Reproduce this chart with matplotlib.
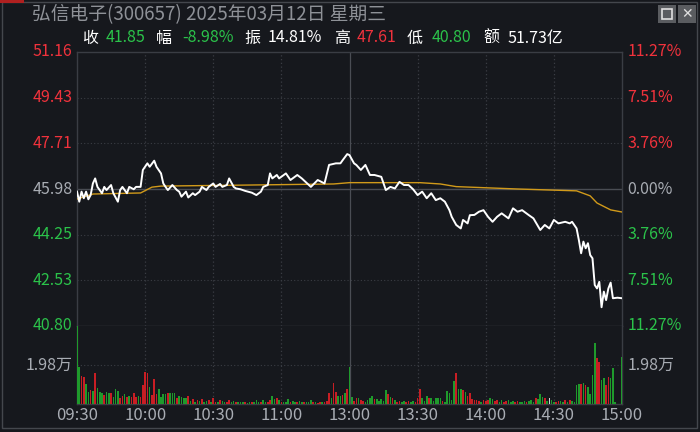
import matplotlib
matplotlib.use('Agg')
import matplotlib.pyplot as plt
from matplotlib.patches import Rectangle

plt.rcParams['font.family'] = ['Noto Sans CJK SC', 'DejaVu Sans']

# ---- data ----
prev_close = 45.98
price_ticks = [40.80, 42.53, 44.25, 45.98, 47.71, 49.43, 51.16]
pct_labels = ['11.27%', '7.51%', '3.76%', '0.00%', '3.76%', '7.51%', '11.27%']
time_labels = ['09:30', '10:00', '10:30', '11:00', '13:00', '13:30', '14:00', '14:30', '15:00']
vol_tick = 19800

# minute index (0 = 09:30, 120 = 11:30/13:00, 240 = 15:00) and price
price_min = [0, 1, 2, 3, 4, 5, 6, 7, 8, 9, 11, 12, 13, 15, 16, 18, 19, 20, 22, 23,
             25, 26, 28, 29, 31, 32, 34, 35, 37, 38, 39, 40, 42, 44, 45, 46, 48, 49, 51, 52,
             54, 55, 57, 58, 60, 61, 63, 64, 66, 67, 69, 70, 72, 74, 77, 79, 81, 82, 84, 85,
             86, 88, 89, 92, 94, 97, 99, 103, 106, 109, 111, 114, 116, 117, 119, 120, 122, 123, 125, 127,
             129, 131, 134, 136, 138, 140, 142, 144, 146, 148, 150, 152, 154, 156, 158, 160, 162, 164, 165, 167,
             169, 170, 172, 173, 175, 177, 179, 181, 183, 185, 187, 190, 192, 194, 196, 199, 201, 204, 206, 208,
             210, 212, 215, 217, 218, 220, 221, 222, 223, 224, 225, 226, 227, 228, 229, 230, 231, 232, 233, 234,
             235, 236, 238, 240]
price_val = [45.88, 45.50, 45.88, 45.63, 45.88, 45.59, 45.75, 46.19, 46.38, 46.06, 45.82, 46.06, 45.94, 46.13, 45.82, 45.50, 45.94, 46.06, 45.82, 46.06,
             45.97, 46.06, 46.06, 46.70, 46.95, 46.82, 47.05, 46.82, 46.57, 46.19, 46.06, 45.94, 46.13, 45.94, 45.88, 45.69, 45.88, 45.66, 45.82, 45.75,
             45.88, 46.06, 45.94, 46.06, 46.19, 46.06, 46.17, 46.06, 46.13, 46.38, 46.06, 46.00, 45.97, 45.91, 45.84, 45.75, 45.88, 46.06, 46.13, 46.57,
             46.38, 46.51, 46.38, 46.57, 46.32, 46.51, 46.38, 46.06, 46.32, 46.19, 46.89, 46.95, 46.95, 47.07, 47.30, 47.26, 46.95, 46.89, 46.70, 46.89,
             46.51, 46.51, 46.44, 45.94, 46.06, 46.00, 46.25, 46.13, 46.13, 45.97, 45.75, 45.88, 45.63, 45.82, 45.56, 45.63, 45.50, 45.18, 44.93, 44.62,
             44.49, 44.81, 44.68, 44.99, 45.00, 45.12, 45.18, 44.93, 44.74, 44.93, 45.06, 44.87, 45.25, 45.12, 45.18, 44.99, 44.87, 44.43, 44.62, 44.49,
             44.81, 44.68, 44.74, 44.68, 44.74, 44.49, 44.05, 43.55, 43.99, 43.74, 43.93, 43.48, 43.36, 42.35, 42.22, 42.47, 41.51, 42.10, 41.78, 42.22,
             42.44, 41.85, 41.87, 41.85]

avg_min = [0, 7, 28, 33, 37, 76, 113, 120, 151, 160, 167, 194, 220, 226, 229, 235, 240]
avg_val = [45.60, 45.79, 45.83, 46.05, 46.09, 46.13, 46.17, 46.22, 46.22, 46.17, 46.07, 45.98, 45.91, 45.72, 45.45, 45.19, 45.11]

# one bar per minute, 241 minutes
volume = [52000, 18900, 14400, 13900, 10100, 6300, 7100, 6800, 15900, 7900,
          6300, 5700, 4600, 6300, 5400, 5700, 3700, 7400, 6600, 2900,
          4100, 4900, 3700, 4200, 3700, 5700, 3700, 4100, 3700, 9600,
          16400, 15900, 8800, 4600, 12500, 4900, 7400, 3700, 4900, 4900,
          5400, 5700, 5700, 5700, 2900, 4100, 3700, 3200, 2900, 4200,
          1500, 2400, 1200, 2000, 1700, 2400, 1000, 1500, 2000, 1200,
          2900, 1200, 1000, 2000, 1500, 1200, 900, 2000, 1000, 1700,
          1200, 800, 1000, 1200, 900, 700, 1000, 800, 1200, 2000,
          1200, 1000, 2000, 1200, 900, 2000, 4100, 2400, 2900, 2000,
          1000, 1200, 900, 2400, 1200, 1700, 1000, 800, 1500, 1000,
          900, 800, 1200, 2000, 1200, 800, 700, 1200, 900, 1000,
          1500, 5400, 3000, 10500, 6300, 4100, 4100, 4600, 5400, 7400,
          18900,
          3700, 1700, 2900, 2900, 2000, 1500, 1200, 2000, 2900, 4200,
          2400, 2400, 1500, 2400, 1700, 7100, 5100, 3700, 2900, 2000,
          1200, 1500, 1000, 1500, 1200, 1700, 1000, 1700, 1200, 2900,
          7400, 2900, 1500, 4100, 3200, 2900, 1500, 3200, 2900, 3200,
          1500, 1200, 6600, 5700, 2000, 11700, 15500, 7600, 7600, 7100,
          6300, 4200, 5400, 2500, 2000, 2000, 1700, 1200, 2000, 1500,
          2000, 2900, 2500, 1500, 2000, 1200, 2000, 1000, 1500, 2000,
          1200, 1700, 1000, 1500, 1200, 1200, 1700, 1000, 1500, 2000,
          1200, 2900, 2400, 5100, 3700, 2900, 1500, 2900, 2000, 1200,
          1000, 1500, 1500, 1000, 2000, 1200, 2000, 1500, 1200, 9600,
          10100, 10100, 10800, 9600, 8800, 4900, 14700, 31100, 23200, 21500,
          12200, 13000, 9600, 13900, 13000, 18100, 1200, 0, 0, 23700]
# r = up minute, g = down minute, w = unchanged
vol_dir = ('ggrrggrgrg' 'ggrggrgggr' 'rgrgrrrgrr' 'rrgrrrgggg' 'rgggrggggr'
           'grgrgrggrg' 'rrgrggrrgg' 'rgggrggrgg' 'grggrrggrg' 'rgggrggrgg'
           'rgggrgrrgr' 'rrgrrggrgr' 'g'
           'grrgrrgggg' 'rgggggrgrg' 'rrggrrggrr' 'rgggrggggg' 'rgggggrggr'
           'grrrrrrgrr' 'rggrrggrrg' 'ggrrgggrgg' 'grgggrgwgg' 'rrggrgrggg'
           'grgrggggrr' 'ggrrgggwwg')

BG = '#16181d'
GRID = '#3a3d44'
RED = '#f0323c'
GREEN = '#2bc24a'
GREY = '#a8acb3'
W, H = 700, 432


def fx(px):
    return px / W


def fy(py):
    return 1 - py / H


fig = plt.figure(figsize=(7, 4.32), dpi=100, facecolor=BG)
ax = fig.add_axes([fx(77), fy(326), fx(622) - fx(77), fy(52) - fy(326)], facecolor=BG)
axv = fig.add_axes([fx(77), fy(404), fx(622) - fx(77), fy(326) - fy(404)], facecolor=BG, sharex=ax)

# grid
for t in price_ticks[1:-1]:
    if t == prev_close:
        ax.axhline(t, color='#4a4d54', lw=1)
    else:
        ax.axhline(t, color=GRID, lw=0.8, ls=(0, (1, 2)))
for m in range(30, 240, 30):
    ls = '-' if m == 120 else (0, (1, 2))
    lc = '#4a4d54' if m == 120 else GRID
    ax.axvline(m, color=lc, lw=0.9, ls=ls)
    axv.axvline(m, color=lc, lw=0.9, ls=ls)
axv.axhline(vol_tick, color=GRID, lw=0.8, ls=(0, (1, 2)))

ax.plot(avg_min, avg_val, color='#d19a1a', lw=1.0, zorder=3)
ax.plot(price_min, price_val, color='white', lw=1.4, zorder=4)
ax.set_xlim(0, 240)
ax.set_ylim(price_ticks[0], price_ticks[-1])

# volume bars
dir_col = {'r': '#c81e24', 'g': '#1f9a2c', 'w': '#d0d0d0'}
colors = [dir_col[c] for c in vol_dir]
axv.bar(range(len(volume)), volume, width=0.7, color=colors, zorder=3)
axv.set_ylim(0, 2 * vol_tick)

for a in (ax, axv):
    a.set_xticks([])
    a.set_yticks([])
    for s in a.spines.values():
        s.set_color(GRID)
        s.set_linewidth(1)
axv.spines['top'].set_visible(False)

# price labels left / right
for i, t in enumerate(price_ticks):
    if t > prev_close:
        c = RED
    elif t < prev_close:
        c = GREEN
    else:
        c = GREY
    yy = (t - price_ticks[0]) / (price_ticks[-1] - price_ticks[0])
    ax.text(-0.008, yy, f'{t:.2f}', transform=ax.transAxes, ha='right', va='center',
            color=c, fontsize=11.5)
    ax.text(1.01, yy, pct_labels[::-1][i], transform=ax.transAxes, ha='left', va='center',
            color=c, fontsize=11.5)
axv.text(-0.008, 0.5, '1.98万', transform=axv.transAxes, ha='right', va='center', color=GREY, fontsize=11.5)
axv.text(1.01, 0.5, '1.98万', transform=axv.transAxes, ha='left', va='center', color=GREY, fontsize=11.5)

for i, lab in enumerate(time_labels):
    fig.text(fx(77 + i * 545 / 8), fy(415), lab, ha='center', va='center', color=GREY, fontsize=12)

# title and info line
fig.text(fx(32), fy(15), '弘信电子(300657) 2025年03月12日 星期三', ha='left', va='center',
         color='#8e9197', fontsize=13.5)
info = [(82, '收', 'white'), (106, '41.85', GREEN), (156, '幅', 'white'), (182, '-8.98%', GREEN),
        (244, '振', 'white'), (268, '14.81%', 'white'), (334, '高', 'white'), (357, '47.61', RED),
        (407, '低', 'white'), (432, '40.80', GREEN), (483, '额', 'white'), (507, '51.73亿', 'white')]
for px, s, c in info:
    fig.text(fx(px), fy(38), s, ha='left', va='center', color=c, fontsize=11.5)

# window frame and buttons
fig.patches.append(Rectangle((fx(2), fy(428)), fx(695), fy(2) - fy(428), transform=fig.transFigure,
                             fill=False, edgecolor='#44474d', lw=1))
fig.patches.append(Rectangle((fx(0), fy(3)), fx(24), fy(0) - fy(3), transform=fig.transFigure,
                             color='#b02020', lw=0))
for bx in (658, 678):
    fig.patches.append(Rectangle((fx(bx), fy(23)), fx(18), fy(5) - fy(23), transform=fig.transFigure,
                                 color='#5a5c60', lw=0))
fig.patches.append(Rectangle((fx(662), fy(19)), fx(10), fy(9) - fy(19), transform=fig.transFigure,
                             fill=False, edgecolor='#e0e0e0', lw=1.2))
fig.text(fx(687), fy(14), '✕', ha='center', va='center', color='#e0e0e0', fontsize=10,
         family=['DejaVu Sans'])

fig.savefig('out.png', dpi=100, facecolor=BG)
